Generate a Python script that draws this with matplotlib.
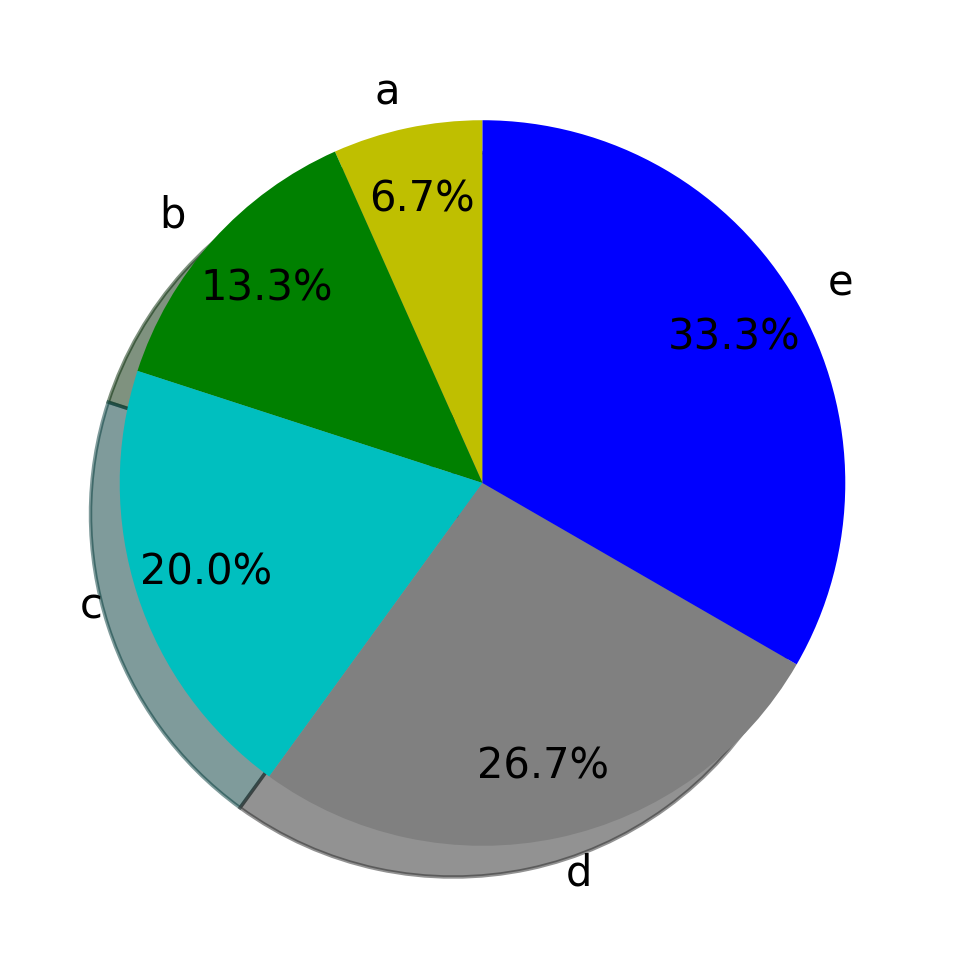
import matplotlib
matplotlib.use("Agg")
import matplotlib.pyplot as plt

labels = ["a", "b", "c", "d", "e"]
values = [1, 2, 3, 4, 5]
colors = ["y", "g", "c", "grey", "b"]

fig = plt.figure(figsize=(9.65, 9.66), dpi=100)
ax = fig.add_axes([0, 0, 1, 1])
ax.pie(
    values,
    labels=labels,
    colors=colors,
    autopct="%1.1f%%",
    pctdistance=0.8,
    startangle=90,
    shadow={"ox": -0.058, "oy": -0.062, "linewidth": 2.5},
    textprops={"fontsize": 30},
)
ax.set_aspect("equal")
ax.set_xlim(-1.33, 1.33)
ax.set_ylim(-1.33, 1.33)
fig.savefig("out.png")
